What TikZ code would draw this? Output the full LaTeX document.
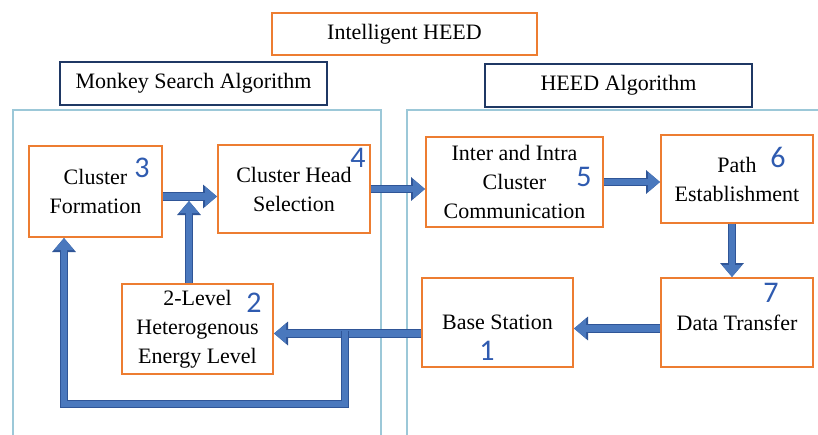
\documentclass[tikz,border=0pt]{standalone}
\usepackage{fontspec}
\setmainfont{Liberation Serif}
\newfontfamily\numfont{Carlito}
\usetikzlibrary{arrows.meta}
\definecolor{boxorange}{HTML}{ED7D31}
\definecolor{titlenavy}{HTML}{1F3864}
\definecolor{panelblue}{HTML}{9CC8D8}
\definecolor{arrowfill}{HTML}{4A78BD}
\definecolor{arrowedge}{HTML}{2F5597}
\definecolor{numblue}{HTML}{2F5BB0}

\begin{document}
\begin{tikzpicture}[x=1pt,y=-1pt,
  stepbox/.style={draw=boxorange,line width=2pt,fill=white,align=center,inner sep=0pt,font=\rmfamily\fontsize{22}{29}\selectfont},
  titlebox/.style={draw=titlenavy,line width=2.4pt,minimum width=267pt,minimum height=43pt,font=\rmfamily\fontsize{22}{29}\selectfont},
  num/.style={text=numblue,inner sep=0pt,font=\numfont\fontsize{30}{30}\selectfont},
  flow/.style={draw=arrowfill,line width=6.5pt,line join=miter,-{Triangle[length=12pt,width=19pt]},
    preaction={draw=arrowedge,line width=8.5pt,-{Triangle[length=14pt,width=23pt]}}}]
\clip (0,0) rectangle (818,434);
\fill[white] (0,0) rectangle (818,434);
% headers
\node[draw=boxorange,line width=2pt,minimum width=265pt,minimum height=42pt,font=\rmfamily\fontsize{22}{29}\selectfont] (ih) at (404.5,34) {Intelligent HEED};
\node[titlebox] (msa) at (193.5,83.5) {Monkey Search Algorithm};
\node[titlebox] (heed) at (618.5,85.5) {HEED Algorithm};
% panels
\draw[panelblue,line width=1.2pt] (13,440) -- (13,110) -- (381,110) -- (381,440);
\draw[panelblue,line width=1.2pt] (407,440) -- (407,110) -- (825,110);
% steps
\node[stepbox,minimum width=133pt,minimum height=91pt] (cf) at (95.5,191.5) {Cluster\\Formation};
\node[stepbox,minimum width=152pt,minimum height=88pt] (chs) at (294,189) {Cluster Head\\Selection};
\node[stepbox,minimum width=151pt,minimum height=90pt] (lvl) at (197.5,329) {2-Level\\Heterogenous\\Energy Level};
\node[stepbox,minimum width=177pt,minimum height=90pt] (iic) at (514.5,182) {Inter and Intra\\Cluster\\Communication};
\node[stepbox,minimum width=152pt,minimum height=88pt] (pe) at (737,179) {Path\\Establishment};
\node[stepbox,minimum width=151pt,minimum height=89pt] (bs) at (497.5,322.5) {Base Station};
\node[stepbox,minimum width=152pt,minimum height=89pt] (dt) at (737,322.5) {Data Transfer};
% step numbers
\node[num] (n1) at (487,351) {1};
\node[num] (n2) at (254,303) {2};
\node[num] (n3) at (142,168) {3};
\node[num] (n4) at (358,158) {4};
\node[num] (n5) at (584,177) {5};
\node[num] (n6) at (778,157) {6};
\node[num] (n7) at (771,293) {7};
% flow
\coordinate (meet) at (189,201);
\coordinate (split) at (345,331);
\coordinate (loopR) at (345,404);
\coordinate (loopL) at (64,404);
\draw[flow] ([yshift=-5pt]cf.east) -- ([yshift=-5pt]cf.east -| chs.west);
\draw[flow] (lvl.north -| meet) -- (meet);
\draw[flow] (chs.east) -- (chs.east -| iic.west);
\draw[flow] (iic.east) -- (iic.east -| pe.west);
\draw[flow] ([xshift=-5pt]pe.south) -- ([xshift=-5pt]dt.north);
\draw[flow] ([yshift=-6pt]dt.west) -- ([yshift=-6pt]bs.east);
\draw[flow] ([yshift=-11pt]bs.west) -- ([yshift=-11pt]bs.west -| lvl.east);
\draw[flow] (split) -- (loopR) -- (loopL) -- (loopL |- cf.south);
\end{tikzpicture}
\end{document}
